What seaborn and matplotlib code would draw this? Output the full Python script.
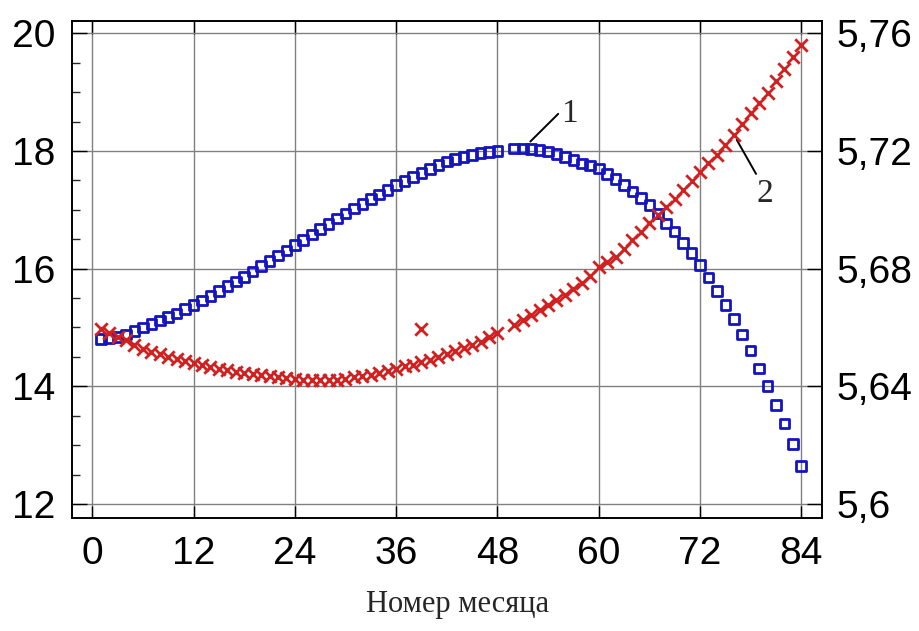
import matplotlib
matplotlib.use("Agg")
import matplotlib.pyplot as plt
import seaborn as sns
import pandas as pd
from matplotlib.ticker import MultipleLocator, FixedLocator, FixedFormatter

# ---------------- data ----------------
months = list(range(1, 49)) + list(range(50, 85))

series1 = [14.80, 14.81, 14.84, 14.88, 14.94, 15.00, 15.06, 15.12, 15.18, 15.24,
           15.31, 15.38, 15.46, 15.54, 15.62, 15.70, 15.78, 15.86, 15.95, 16.04,
           16.13, 16.22, 16.31, 16.40, 16.49, 16.58, 16.67, 16.76, 16.85, 16.94,
           17.02, 17.10, 17.18, 17.26, 17.34, 17.42, 17.49, 17.56, 17.63, 17.69,
           17.76, 17.82, 17.86, 17.90, 17.93, 17.96, 17.98, 18.00,
           18.04, 18.04, 18.03, 18.02, 17.99, 17.95, 17.90, 17.85, 17.79, 17.75,
           17.70, 17.61, 17.52, 17.42, 17.31, 17.20, 17.08, 16.94, 16.77, 16.63,
           16.44, 16.27, 16.06, 15.85, 15.62, 15.38, 15.14, 14.88, 14.61, 14.30,
           14.01, 13.68, 13.37, 13.02, 12.65]

series2 = [5.6596, 5.6580, 5.6568, 5.6556, 5.6540, 5.6526, 5.6518, 5.6510, 5.6500, 5.6494,
           5.6486, 5.6478, 5.6472, 5.6466, 5.6460, 5.6454, 5.6450, 5.6446, 5.6442, 5.6438,
           5.6434, 5.6430, 5.6428, 5.6424, 5.6422, 5.6420, 5.6420, 5.6420, 5.6422, 5.6426,
           5.6430, 5.6434, 5.6440, 5.6446, 5.6452, 5.6460, 5.6468, 5.6474, 5.6482, 5.6490,
           5.6500, 5.6510, 5.6520, 5.6530, 5.6540, 5.6552, 5.6566, 5.6580,
           5.6610, 5.6626, 5.6642, 5.6658, 5.6676, 5.6692, 5.6710, 5.6730, 5.6750, 5.6776,
           5.6806, 5.6822, 5.6840, 5.6868, 5.6896, 5.6924, 5.6954, 5.6982, 5.7010, 5.7038,
           5.7066, 5.7098, 5.7130, 5.7158, 5.7186, 5.7220, 5.7254, 5.7290, 5.7328, 5.7362,
           5.7398, 5.7438, 5.7478, 5.7520, 5.7560]

outlier_month = [39]
outlier_value = [5.6596]

x_ticks = [0, 12, 24, 36, 48, 60, 72, 84]
left_ticks = [12, 14, 16, 18, 20]
right_ticks = [5.6, 5.64, 5.68, 5.72, 5.76]
right_tick_labels = ["5,6", "5,64", "5,68", "5,72", "5,76"]
x_label = "Номер месяца"

# ---------------- style ----------------
sns.set_theme(style="white")
plt.rcParams["font.family"] = ["Liberation Sans", "DejaVu Sans"]

BLUE = "#1414C0"
RED = "#D02020"
GRID = "#808080"

fig = plt.figure(figsize=(9.2, 6.31), dpi=100)
ax = fig.add_axes([0.0779, 0.1796, 0.8159, 0.7876])
ax2 = ax.twinx()

df1 = pd.DataFrame({"month": months, "value": series1})
df2 = pd.DataFrame({"month": months, "value": series2})
df3 = pd.DataFrame({"month": outlier_month, "value": outlier_value})

sns.scatterplot(data=df1, x="month", y="value", marker="s", s=48,
                facecolor="none", edgecolor=BLUE, linewidth=2.0, ax=ax, zorder=3)
for c in ax.collections:
    c.set_facecolor("none")
    c.set_edgecolor(BLUE)

sns.scatterplot(data=df2, x="month", y="value", marker="x", s=80,
                color=RED, linewidth=2.0, ax=ax2, zorder=3)
sns.scatterplot(data=df3, x="month", y="value", marker="x", s=80,
                color=RED, linewidth=2.0, ax=ax2, zorder=3)

ax.set_xlim(-2.44, 86.49)
ax.set_ylim(11.767, 20.214)
ax2.set_ylim(5.59534, 5.76428)

ax.xaxis.set_major_locator(FixedLocator(x_ticks))
ax.yaxis.set_major_locator(FixedLocator(left_ticks))
ax.yaxis.set_minor_locator(MultipleLocator(0.5))
ax2.yaxis.set_major_locator(FixedLocator(right_ticks))
ax2.yaxis.set_major_formatter(FixedFormatter(right_tick_labels))

ax.grid(True, which="major", color=GRID, linewidth=1.0)
ax.set_axisbelow(True)
ax2.grid(False)

ax.set_xlabel("")
ax.set_ylabel("")
ax2.set_ylabel("")

ax.tick_params(axis="x", which="major", direction="in", length=9, width=1,
               top=True, bottom=True, labelsize=28, pad=13, colors="black")
ax.tick_params(axis="y", which="major", direction="in", length=11, width=1,
               left=True, right=False, labelsize=28, pad=12, colors="black")
ax.tick_params(axis="y", which="minor", direction="in", length=6, width=1,
               left=True, right=False)
ax2.tick_params(axis="y", which="major", direction="in", length=11, width=1,
                right=True, labelsize=28, pad=10, colors="black")

for a in (ax, ax2):
    for sp in a.spines.values():
        sp.set_color("black")
        sp.set_linewidth(1.2)

# annotations (curve labels)
ax.annotate("", xy=(51.9, 18.16), xytext=(55.2, 18.63),
            arrowprops=dict(arrowstyle="-", color="black", lw=1.4,
                            shrinkA=0, shrinkB=0))
ax.text(56.5, 18.63, "1", fontsize=24, family="Liberation Serif",
        ha="center", va="center")
ax.annotate("", xy=(76.35, 18.19), xytext=(78.64, 17.61),
            arrowprops=dict(arrowstyle="-", color="black", lw=1.4,
                            shrinkA=0, shrinkB=0))
ax.text(79.7, 17.27, "2", fontsize=24, family="Liberation Serif",
        ha="center", va="center")

fig.text(0.497, 0.042, x_label, fontsize=22, family="Liberation Serif",
         ha="center", va="center")

fig.savefig("out.png", dpi=100)
